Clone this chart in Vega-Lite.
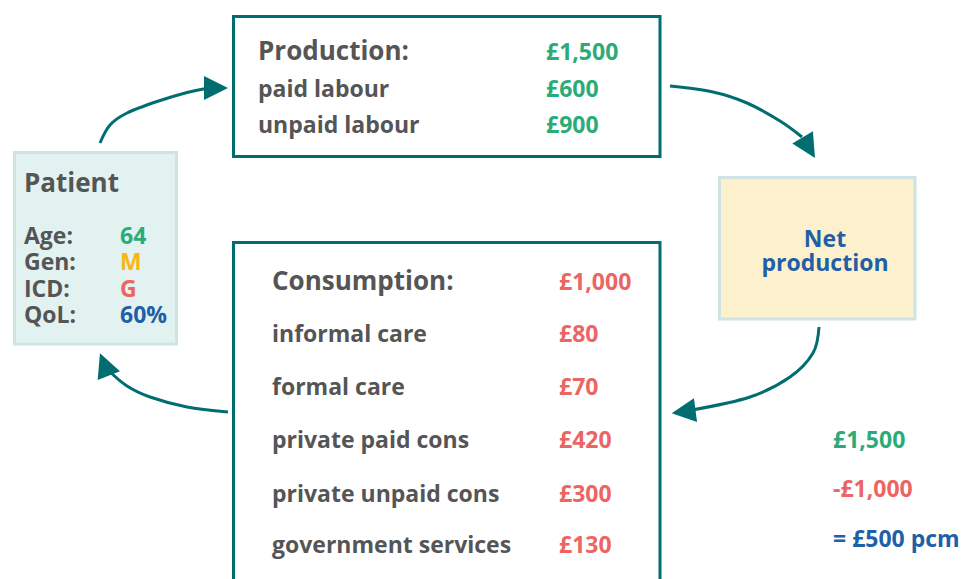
{
  "$schema": "https://vega.github.io/schema/vega-lite/v6.json",
  "width": 962,
  "height": 579,
  "padding": 0,
  "autosize": {"type": "none"},
  "background": "white",
  "config": {"view": {"stroke": null}},
  "datasets": {
    "boxes": [
      {"box": "Production", "x": 233.5, "x2": 660, "y": 16.5, "y2": 156.5, "kind": "outline"},
      {"box": "Consumption", "x": 233.5, "x2": 660, "y": 242.5, "y2": 620, "kind": "outline"},
      {"box": "Patient", "x": 14.5, "x2": 176.5, "y": 152.5, "y2": 344, "kind": "patient"},
      {"box": "Net production", "x": 719.5, "x2": 915, "y": 177.5, "y2": 319, "kind": "net"}
    ],
    "texts": [
      {"label": "Production:", "x": 258, "y": 60, "role": "heading", "tone": "text"},
      {"label": "paid labour", "x": 258, "y": 97, "role": "item", "tone": "text"},
      {"label": "unpaid labour", "x": 258, "y": 133, "role": "item", "tone": "text"},
      {"label": "£1,500", "x": 546, "y": 60, "role": "value", "tone": "gain"},
      {"label": "£600", "x": 546, "y": 97, "role": "value", "tone": "gain"},
      {"label": "£900", "x": 546, "y": 133, "role": "value", "tone": "gain"},
      {"label": "Patient", "x": 24, "y": 192, "role": "heading", "tone": "text"},
      {"label": "Age:", "x": 24, "y": 244, "role": "item", "tone": "text"},
      {"label": "Gen:", "x": 24, "y": 270, "role": "item", "tone": "text"},
      {"label": "ICD:", "x": 24, "y": 297, "role": "item", "tone": "text"},
      {"label": "QoL:", "x": 24, "y": 323, "role": "item", "tone": "text"},
      {"label": "64", "x": 120, "y": 244, "role": "value", "tone": "gain"},
      {"label": "M", "x": 120, "y": 270, "role": "value", "tone": "gender"},
      {"label": "G", "x": 120, "y": 297, "role": "value", "tone": "loss"},
      {"label": "60%", "x": 120, "y": 323, "role": "value", "tone": "net"},
      {"label": "Consumption:", "x": 272, "y": 290, "role": "heading", "tone": "text"},
      {"label": "informal care", "x": 272, "y": 342, "role": "item", "tone": "text"},
      {"label": "formal care", "x": 272, "y": 395, "role": "item", "tone": "text"},
      {"label": "private paid cons", "x": 272, "y": 448, "role": "item", "tone": "text"},
      {"label": "private unpaid cons", "x": 272, "y": 502, "role": "item", "tone": "text"},
      {"label": "government services", "x": 272, "y": 553, "role": "item", "tone": "text"},
      {"label": "£1,000", "x": 559, "y": 290, "role": "value", "tone": "loss"},
      {"label": "£80", "x": 559, "y": 342, "role": "value", "tone": "loss"},
      {"label": "£70", "x": 559, "y": 395, "role": "value", "tone": "loss"},
      {"label": "£420", "x": 559, "y": 448, "role": "value", "tone": "loss"},
      {"label": "£300", "x": 559, "y": 502, "role": "value", "tone": "loss"},
      {"label": "£130", "x": 559, "y": 553, "role": "value", "tone": "loss"},
      {"label": "£1,500", "x": 833, "y": 448, "role": "value", "tone": "gain"},
      {"label": "-£1,000", "x": 833, "y": 497, "role": "value", "tone": "loss"},
      {"label": "= £500 pcm", "x": 833, "y": 547, "role": "value", "tone": "net"}
    ],
    "centered": [
      {"label": "Net", "x": 825, "y": 247},
      {"label": "production", "x": 825, "y": 271}
    ],
    "paths": [
      {"arrow": "a1", "i": 0, "x": 100, "y": 143},
      {"arrow": "a1", "i": 1, "x": 110, "y": 125},
      {"arrow": "a1", "i": 2, "x": 127, "y": 113},
      {"arrow": "a1", "i": 3, "x": 157, "y": 101.5},
      {"arrow": "a1", "i": 4, "x": 187, "y": 92.5},
      {"arrow": "a1", "i": 5, "x": 206, "y": 88.5},
      {"arrow": "a2", "i": 0, "x": 670, "y": 86},
      {"arrow": "a2", "i": 1, "x": 713, "y": 92},
      {"arrow": "a2", "i": 2, "x": 747, "y": 103},
      {"arrow": "a2", "i": 3, "x": 780, "y": 121},
      {"arrow": "a2", "i": 4, "x": 802, "y": 137},
      {"arrow": "a3", "i": 0, "x": 819, "y": 327},
      {"arrow": "a3", "i": 1, "x": 813, "y": 353},
      {"arrow": "a3", "i": 2, "x": 790, "y": 377},
      {"arrow": "a3", "i": 3, "x": 750, "y": 397},
      {"arrow": "a3", "i": 4, "x": 692, "y": 410},
      {"arrow": "a4", "i": 0, "x": 228, "y": 412},
      {"arrow": "a4", "i": 1, "x": 187, "y": 407},
      {"arrow": "a4", "i": 2, "x": 150, "y": 397},
      {"arrow": "a4", "i": 3, "x": 127, "y": 386},
      {"arrow": "a4", "i": 4, "x": 108, "y": 370}
    ],
    "heads": [
      {"arrow": "a1", "x": 216, "y": 88, "angle": 0},
      {"arrow": "a2", "x": 808.8, "y": 147.7, "angle": 59},
      {"arrow": "a3", "x": 683.6, "y": 411.7, "angle": 172.5},
      {"arrow": "a4", "x": 104.4, "y": 364.5, "angle": 248.4}
    ]
  },
  "encoding": {
    "x": {"field": "x", "type": "quantitative", "scale": {"domain": [0, 962], "nice": false, "zero": false}, "axis": null},
    "y": {"field": "y", "type": "quantitative", "scale": {"domain": [0, 579], "nice": false, "zero": false, "reverse": true}, "axis": null}
  },
  "layer": [
    {
      "data": {"name": "boxes"},
      "mark": {"type": "rect", "strokeWidth": 3, "clip": true},
      "encoding": {
        "x2": {"field": "x2"},
        "y2": {"field": "y2"},
        "fill": {"field": "kind", "type": "nominal", "scale": {"domain": ["outline", "patient", "net"], "range": ["#ffffff", "#e2f2f1", "#fdf0cc"]}, "legend": null},
        "stroke": {"field": "kind", "type": "nominal", "scale": {"domain": ["outline", "patient", "net"], "range": ["#006d70", "#cfe3e5", "#cfe3e5"]}, "legend": null}
      }
    },
    {
      "data": {"name": "paths"},
      "mark": {"type": "line", "interpolate": "cardinal", "color": "#006d70", "strokeWidth": 3},
      "encoding": {
        "detail": {"field": "arrow", "type": "nominal"},
        "order": {"field": "i", "type": "quantitative"}
      }
    },
    {
      "data": {"name": "heads"},
      "mark": {"type": "point", "shape": "M-1,-1L1,0L-1,1Z", "filled": true, "color": "#006d70", "opacity": 1, "size": 576},
      "encoding": {
        "angle": {"field": "angle", "type": "quantitative", "scale": {"domain": [0, 360], "range": [0, 360]}}
      }
    },
    {
      "data": {"name": "texts"},
      "transform": [{"filter": "datum.role === 'heading'"}],
      "mark": {"type": "text", "align": "left", "baseline": "alphabetic", "font": "Open Sans", "fontWeight": 700, "fontSize": 26, "color": "#555555"},
      "encoding": {"text": {"field": "label"}}
    },
    {
      "data": {"name": "texts"},
      "transform": [{"filter": "datum.role === 'item'"}],
      "mark": {"type": "text", "align": "left", "baseline": "alphabetic", "font": "Open Sans", "fontWeight": 700, "fontSize": 23, "color": "#555555"},
      "encoding": {"text": {"field": "label"}}
    },
    {
      "data": {"name": "texts"},
      "transform": [{"filter": "datum.role === 'value'"}],
      "mark": {"type": "text", "align": "left", "baseline": "alphabetic", "font": "Open Sans", "fontWeight": 700, "fontSize": 23},
      "encoding": {
        "text": {"field": "label"},
        "color": {"field": "tone", "type": "nominal", "scale": {"domain": ["gain", "loss", "net", "gender"], "range": ["#2bab78", "#ec6563", "#1f5fa8", "#fdb515"]}, "legend": null}
      }
    },
    {
      "data": {"name": "centered"},
      "mark": {"type": "text", "align": "center", "baseline": "alphabetic", "font": "Open Sans", "fontWeight": 700, "fontSize": 23, "color": "#1f5fa8"},
      "encoding": {"text": {"field": "label"}}
    }
  ]
}
